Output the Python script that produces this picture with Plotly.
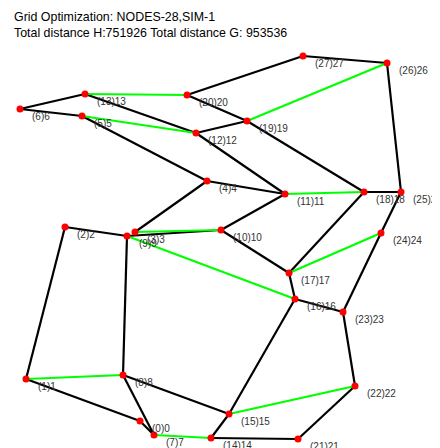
import plotly.graph_objects as go

# node positions (x, y), node ids 0..27
node_x = [140, 26, 65, 135, 207, 82, 20, 154, 123, 127, 221, 285, 196, 85,
          211, 229, 295, 289, 364, 247, 187, 298, 355, 343, 381, 401, 387, 303]
node_y = [27, 69, 221, 216, 267, 332, 339, 13, 73, 212, 218, 254, 315, 354,
          10, 34, 149, 175, 256, 327, 353, 9, 62, 136, 215, 256, 385, 392]
node_labels = ["(%d)%d" % (i, i) for i in range(len(node_x))]

black_edges = [(6, 13), (6, 5), (13, 12), (5, 4), (20, 27), (27, 26), (20, 19),
               (19, 18), (12, 19), (12, 11), (26, 25), (4, 11), (4, 3), (2, 9),
               (2, 1), (9, 8), (10, 11), (10, 17), (18, 25), (18, 17), (25, 24),
               (24, 23), (17, 16), (16, 23), (16, 15), (23, 22), (22, 21),
               (21, 14), (15, 14), (15, 8), (8, 7), (1, 0), (0, 7), (9, 10)]
green_edges = [(13, 20), (5, 12), (19, 26), (11, 18), (3, 10), (9, 16),
               (17, 24), (1, 8), (22, 15), (14, 7)]

title_lines = ["Grid Optimization: NODES-28,SIM-1",
               "Total distance H:751926 Total distance G: 953536"]


def edge_xy(edges):
    xs, ys = [], []
    for a, b in edges:
        xs += [node_x[a], node_x[b], None]
        ys += [node_y[a], node_y[b], None]
    return xs, ys


fig = go.Figure()
bx, by = edge_xy(black_edges)
fig.add_trace(go.Scatter(x=bx, y=by, mode="lines",
                         line=dict(color="black", width=2.2), hoverinfo="skip"))
gx, gy = edge_xy(green_edges)
fig.add_trace(go.Scatter(x=gx, y=gy, mode="lines",
                         line=dict(color="#00ff00", width=2.2), hoverinfo="skip"))
fig.add_trace(go.Scatter(x=node_x, y=node_y, mode="markers",
                         marker=dict(color="#ff0000", size=7, line=dict(width=0))))

for i, lab in enumerate(node_labels):
    fig.add_annotation(x=node_x[i], y=node_y[i], text=lab, showarrow=False,
                       xanchor="left", yanchor="middle", xshift=10, yshift=-7,
                       font=dict(family="Liberation Sans, Arial", size=10,
                                 color="#333333"))

fig.add_annotation(xref="paper", yref="paper", x=4 / 440, y=1,
                   text="<br>".join(title_lines), showarrow=False,
                   xanchor="left", yanchor="top", align="left",
                   font=dict(family="Liberation Sans, Arial", size=12.4, color="black"))

fig.update_layout(
    width=440, height=448, margin=dict(l=0, r=0, t=0, b=0),
    paper_bgcolor="white", plot_bgcolor="white", showlegend=False,
    xaxis=dict(range=[8, 448], visible=False, fixedrange=True),
    yaxis=dict(range=[-8, 440], visible=False, fixedrange=True),
)
fig.write_html("out.html")
